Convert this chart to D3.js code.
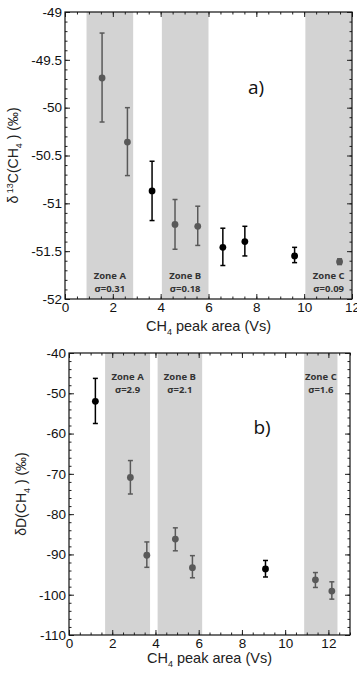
<!DOCTYPE html>
<html>
<head>
<meta charset="utf-8">
<script src="https://cdn.jsdelivr.net/npm/d3@7"></script>
<style>
  body { margin: 0; background: #fff; }
  text { font-family: "Liberation Sans", Arial, sans-serif; }
</style>
</head>
<body>
<svg id="chart" width="357" height="675"></svg>
<script>
'use strict';

// panel a) : d13C(CH4) vs CH4 peak area
var aX      = [1.55, 2.61, 3.64, 4.60, 5.55, 6.60, 7.52, 9.60, 11.48];
var aY      = [-49.69, -50.36, -50.87, -51.22, -51.24, -51.46, -51.40, -51.55, -51.61];
var aErrHi  = [-49.22, -50.00, -50.56, -50.96, -51.03, -51.26, -51.24, -51.46, -51.58];
var aErrLo  = [-50.15, -50.71, -51.18, -51.48, -51.44, -51.65, -51.55, -51.62, -51.64];
var aZoneStart = [0.9, 4.05, 10.05];
var aZoneEnd   = [2.85, 6.0, 12.0];
var aSigma     = ['0.31', '0.18', '0.09'];
var aYTicks = [-52, -51.5, -51, -50.5, -50, -49.5, -49];
var aXTicks = [0, 2, 4, 6, 8, 10, 12];

// panel b) : dD(CH4) vs CH4 peak area
var bX      = [1.22, 2.84, 3.60, 4.92, 5.71, 9.09, 11.40, 12.16];
var bY      = [-52.0, -70.9, -90.2, -86.2, -93.3, -93.6, -96.3, -99.1];
var bErrHi  = [-46.3, -66.7, -86.9, -83.4, -90.3, -91.5, -94.5, -96.8];
var bErrLo  = [-57.5, -75.0, -93.2, -89.1, -95.8, -95.6, -98.2, -101.1];
var bZoneStart = [1.67, 4.10, 10.88];
var bZoneEnd   = [3.75, 6.16, 12.42];
var bSigma     = ['2.9', '2.1', '1.6'];
var bYTicks = [-110, -100, -90, -80, -70, -60, -50, -40];
var bXTicks = [0, 2, 4, 6, 8, 10, 12];

var zoneNames = ['Zone A', 'Zone B', 'Zone C'];

var svg = d3.select('#chart');

function drawPanel(p) {
  var x = d3.scaleLinear().domain(p.xDomain).range([p.left, p.right]);
  var y = d3.scaleLinear().domain(p.yDomain).range([p.bottom, p.top]);
  var g = svg.append('g');

  // shaded zones
  g.selectAll('rect.zone')
    .data(p.zoneStart)
    .enter().append('rect')
    .attr('class', 'zone')
    .attr('x', function(d) { return x(d); })
    .attr('y', p.top)
    .attr('width', function(d, i) { return x(p.zoneEnd[i]) - x(d); })
    .attr('height', p.bottom - p.top)
    .attr('fill', '#d3d3d3');

  // zone labels
  p.zoneStart.forEach(function(d, i) {
    var cx = (x(d) + x(p.zoneEnd[i])) / 2;
    var t = g.append('text')
      .attr('x', cx)
      .attr('y', p.zoneLabelY)
      .attr('text-anchor', 'middle')
      .style('font-family', '"Open Sans", sans-serif')
      .style('font-weight', 'bold')
      .style('font-size', '9.5px')
      .attr('fill', '#333');
    t.append('tspan').attr('x', cx).text(zoneNames[i]);
    t.append('tspan').attr('x', cx).attr('dy', 13).text('\u03c3=' + p.sigma[i]);
  });

  // axes: ticks inward, mirrored on top / right
  var fmt = function(d) { return String(d); };
  var none = function() { return ''; };
  var sides = [
    [d3.axisBottom, 'translate(0,' + p.bottom + ')', x, p.xMinor, p.xTicks, fmt],
    [d3.axisTop,    'translate(0,' + p.top + ')',    x, p.xMinor, p.xTicks, none],
    [d3.axisLeft,   'translate(' + p.left + ',0)',   y, p.yMinor, p.yTicks, fmt],
    [d3.axisRight,  'translate(' + p.right + ',0)',  y, p.yMinor, p.yTicks, none]
  ];
  sides.forEach(function(a) {
    var gm = g.append('g').attr('transform', a[1])
      .call(a[0](a[2]).tickValues(a[3]).tickSizeInner(-2.5).tickSizeOuter(0).tickFormat(''));
    gm.select('.domain').remove();
    var gM = g.append('g').attr('transform', a[1])
      .call(a[0](a[2]).tickValues(a[4]).tickSizeInner(-5).tickSizeOuter(0).tickPadding(3).tickFormat(a[5]));
    gM.select('.domain').remove();
    gM.selectAll('text')
      .style('font-family', '"Liberation Sans", Arial, sans-serif')
      .style('font-size', '13.5px')
      .attr('fill', '#111');
  });
  g.selectAll('.tick line').attr('stroke', '#222');

  // frame
  g.append('rect')
    .attr('x', p.left).attr('y', p.top)
    .attr('width', p.right - p.left).attr('height', p.bottom - p.top)
    .attr('fill', 'none').attr('stroke', '#111').attr('stroke-width', 1.2);

  // points outside every zone are black, inside are grey
  function colour(xv) {
    for (var i = 0; i < p.zoneStart.length; i++) {
      if (xv >= p.zoneStart[i] && xv <= p.zoneEnd[i]) return '#595959';
    }
    return '#000';
  }

  var pts = g.selectAll('g.pt').data(p.xs).enter().append('g').attr('class', 'pt');
  pts.append('line')
    .attr('x1', function(d) { return x(d); }).attr('x2', function(d) { return x(d); })
    .attr('y1', function(d, i) { return y(p.hi[i]); })
    .attr('y2', function(d, i) { return y(p.lo[i]); })
    .attr('stroke', colour).attr('stroke-width', 1.5);
  [p.hi, p.lo].forEach(function(arr) {
    pts.append('line')
      .attr('x1', function(d) { return x(d) - 2.5; }).attr('x2', function(d) { return x(d) + 2.5; })
      .attr('y1', function(d, i) { return y(arr[i]); })
      .attr('y2', function(d, i) { return y(arr[i]); })
      .attr('stroke', colour).attr('stroke-width', 1.5);
  });
  pts.append('circle')
    .attr('cx', function(d) { return x(d); })
    .attr('cy', function(d, i) { return y(p.ys[i]); })
    .attr('r', 3.4)
    .attr('fill', colour);

  // panel tag
  g.append('text')
    .attr('x', p.tagX).attr('y', p.tagY)
    .attr('text-anchor', 'middle')
    .style('font-family', '"Open Sans", sans-serif')
    .style('font-size', '19px')
    .attr('fill', '#111')
    .text(p.tag);

  // x title
  var xt = g.append('text')
    .attr('x', (p.left + p.right) / 2).attr('y', p.xTitleY)
    .attr('text-anchor', 'middle')
    .style('font-size', '14.5px')
    .attr('fill', '#222');
  xt.append('tspan').text('CH');
  xt.append('tspan').attr('dy', 4).style('font-size', '9px').text('4');
  xt.append('tspan').attr('dy', -4).text(' peak area (Vs)');

  // y title
  var cy = (p.top + p.bottom) / 2;
  var yt = g.append('text')
    .attr('transform', 'translate(' + p.yTitleX + ',' + cy + ') rotate(-90)')
    .attr('text-anchor', 'middle')
    .style('font-size', '14px')
    .attr('fill', '#222');
  p.yTitle(yt);
}

drawPanel({
  left: 65, right: 352, top: 12, bottom: 299,
  xDomain: [0, 12], yDomain: [-52, -49],
  xTicks: aXTicks, yTicks: aYTicks,
  xMinor: d3.range(0, 12.01, 0.5), yMinor: d3.range(-52, -48.99, 0.1),
  zoneStart: aZoneStart, zoneEnd: aZoneEnd, sigma: aSigma, zoneLabelY: 279,
  xs: aX, ys: aY, hi: aErrHi, lo: aErrLo,
  tag: 'a)', tagX: 256, tagY: 94,
  xTitleY: 331, yTitleX: 18,
  yTitle: function(t) {
    t.append('tspan').text('\u03b4');
    t.append('tspan').attr('dy', -5).style('font-size', '9px').text(' 13');
    t.append('tspan').attr('dy', 5).text('C(CH');
    t.append('tspan').attr('dy', 4).style('font-size', '9px').text('4');
    t.append('tspan').attr('dy', -4).text(' ) (\u2030)');
  }
});

drawPanel({
  left: 69, right: 350, top: 353, bottom: 635,
  xDomain: [0, 13], yDomain: [-110, -40],
  xTicks: bXTicks, yTicks: bYTicks,
  xMinor: d3.range(0, 13.01, 0.5), yMinor: d3.range(-110, -39, 2),
  zoneStart: bZoneStart, zoneEnd: bZoneEnd, sigma: bSigma, zoneLabelY: 380,
  xs: bX, ys: bY, hi: bErrHi, lo: bErrLo,
  tag: 'b)', tagX: 262, tagY: 434,
  xTitleY: 663, yTitleX: 26,
  yTitle: function(t) {
    t.append('tspan').text('\u03b4D(CH');
    t.append('tspan').attr('dy', 4).style('font-size', '9px').text('4');
    t.append('tspan').attr('dy', -4).text(' ) (\u2030)');
  }
});
</script>
</body>
</html>
